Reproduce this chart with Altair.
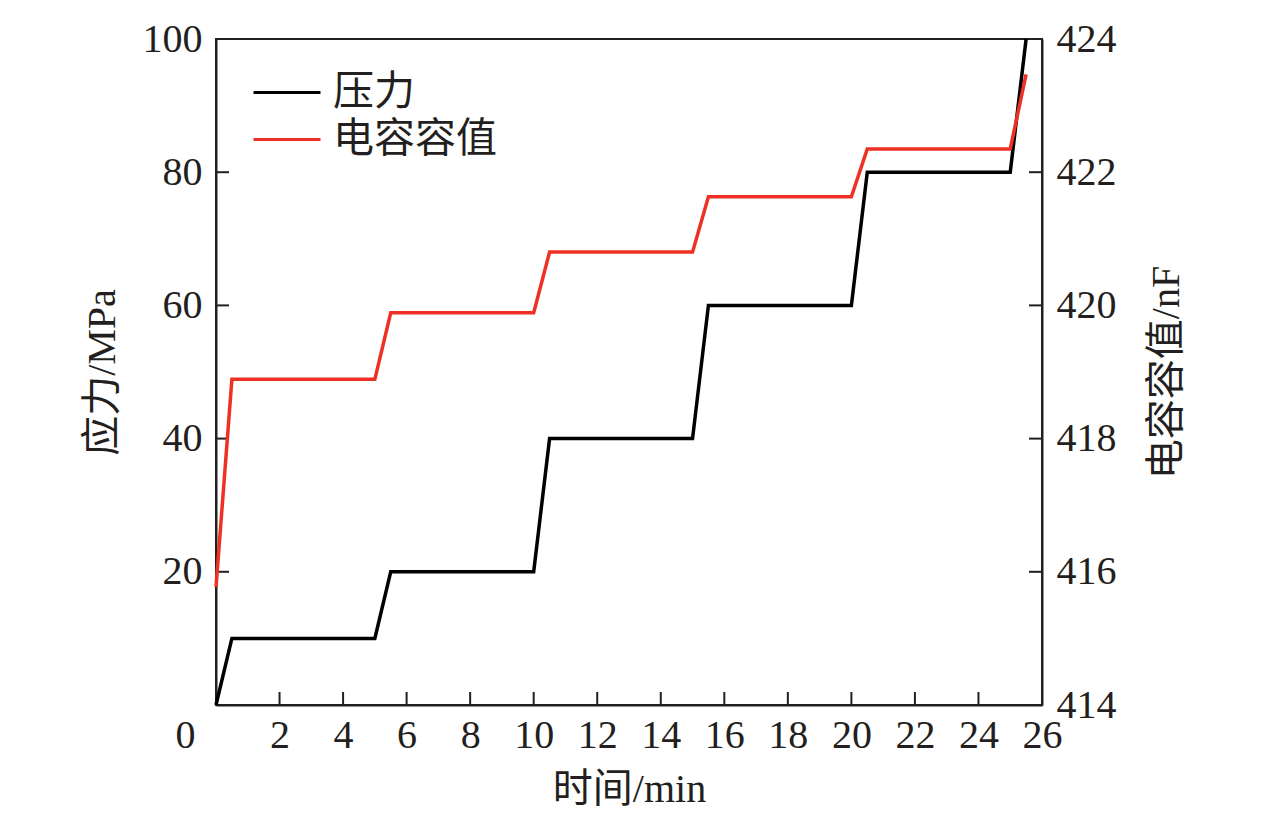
import altair as alt
import pandas as pd

# ---- data ----
time_min = [0, 0.5, 5, 5.5, 10, 10.5, 15, 15.5, 20, 20.5, 25, 25.5]
stress_mpa = [0, 10, 10, 20, 20, 40, 40, 60, 60, 80, 80, 100]
capacitance_nf = [415.77, 418.89, 418.89, 419.89, 419.89, 420.80, 420.80,
                  421.63, 421.63, 422.35, 422.35, 423.47]
series_names = ["压力", "电容容值"]
series_colors = ["#000000", "#ee3124"]

x_ticks = [2, 4, 6, 8, 10, 12, 14, 16, 18, 20, 22, 24]
left_ticks = [20, 40, 60, 80]
right_ticks = [416, 418, 420, 422]
x_labels = [0, 2, 4, 6, 8, 10, 12, 14, 16, 18, 20, 22, 24, 26]
left_labels = [20, 40, 60, 80, 100]
right_labels = [414, 416, 418, 420, 422, 424]

W, H = 826, 666
FONT = "Liberation Serif, Noto Sans CJK SC"
AXC = "#231f20"
TICK = 13

df_p = pd.DataFrame({"t": time_min, "v": stress_mpa, "s": series_names[0]})
df_c = pd.DataFrame({"t": time_min, "v": capacitance_nf, "s": series_names[1]})
df_xt = pd.DataFrame({"t": x_ticks})
df_lt = pd.DataFrame({"v": left_ticks})
df_rt = pd.DataFrame({"v": right_ticks})

x_scale = alt.Scale(domain=[0, 26], nice=False, zero=False)
color = alt.Color(
    "s:N",
    scale=alt.Scale(domain=series_names, range=series_colors),
    legend=alt.Legend(
        title=None, orient="none", legendX=36, legendY=30,
        symbolType="stroke", symbolSize=4489, symbolStrokeWidth=3,
        labelFont=FONT, labelFontSize=41, labelColor=AXC, labelLimit=500,
        rowPadding=0, clipHeight=47, labelOffset=11,
    ),
)

x_enc = alt.X(
    "t:Q", scale=x_scale,
    axis=alt.Axis(
        values=x_labels, title="时间/min", labelFlush=False,
        labelOffset={"condition": {"test": "datum.value === 0", "value": -31}, "value": 0},
        labelPadding=10, titlePadding=14,
    ),
)

left_line = alt.Chart(df_p).mark_line(strokeWidth=3.5).encode(
    x=x_enc,
    y=alt.Y("v:Q", scale=alt.Scale(domain=[0, 100], nice=False),
            axis=alt.Axis(values=left_labels, title="应力/MPa", orient="left",
                          labelPadding=14, titlePadding=20)),
    color=color,
)
x_tick_rules = alt.Chart(df_xt).mark_rule(color=AXC, strokeWidth=2).encode(
    x=alt.X("t:Q", scale=x_scale), y=alt.value(H), y2=alt.value(H - TICK)
)
left_tick_rules = alt.Chart(df_lt).mark_rule(color=AXC, strokeWidth=2).encode(
    y=alt.Y("v:Q"), x=alt.value(0), x2=alt.value(TICK)
)
left = alt.layer(left_line, x_tick_rules, left_tick_rules)

right_line = alt.Chart(df_c).mark_line(strokeWidth=3.5).encode(
    x=alt.X("t:Q", scale=x_scale),
    y=alt.Y("v:Q", scale=alt.Scale(domain=[414, 424], nice=False, zero=False),
            axis=alt.Axis(values=right_labels, title="电容容值/nF", orient="right",
                          format="d", labelPadding=14, titlePadding=30,
                          titleAngle=270, titleBaseline="top")),
    color=color,
)
right_tick_rules = alt.Chart(df_rt).mark_rule(color=AXC, strokeWidth=2).encode(
    y=alt.Y("v:Q"), x=alt.value(W), x2=alt.value(W - TICK)
)
right = alt.layer(right_line, right_tick_rules)

chart = (
    alt.layer(left, right)
    .resolve_scale(y="independent")
    .properties(
        width=W, height=H,
        autosize=alt.AutoSizeParams(type="none"),
        padding={"left": 208, "top": 31, "right": 226, "bottom": 104},
        background="white",
    )
    .configure_view(stroke=AXC, strokeWidth=2)
    .configure_axis(
        grid=False, ticks=False, domainColor=AXC, domainWidth=2,
        labelFont=FONT, labelFontSize=40, labelColor=AXC,
        labelOverlap=False, labelBound=False,
        titleFont=FONT, titleFontSize=40, titleFontWeight="normal", titleColor=AXC,
    )
)

chart.save("out.html", embed_options={"renderer": "svg", "actions": False})
